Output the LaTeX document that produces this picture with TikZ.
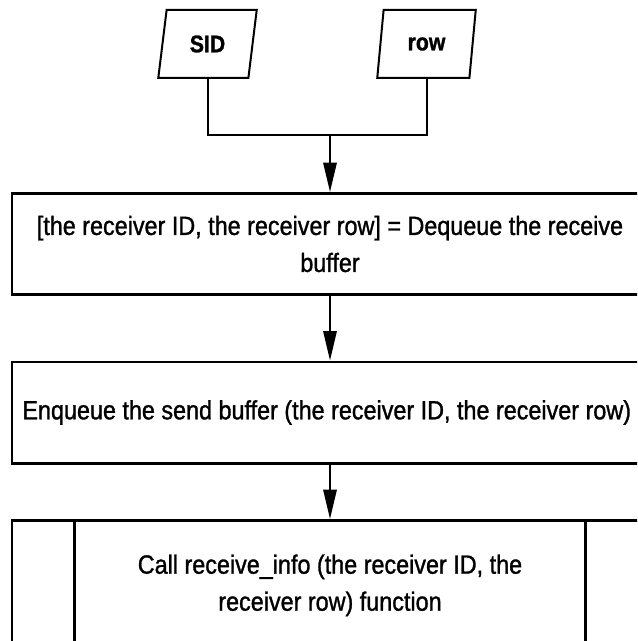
\documentclass[tikz,border=0pt]{standalone}
\usepackage{fontspec}
\usepackage{tikz}
\newfontfamily\flowfont[FakeStretch=0.885, FakeBold=1.2]{Liberation Sans}
\tikzset{
  flow_font/.style = {font=\flowfont\fontsize{19.8}{27.75}\selectfont},
  input_font/.style = {font=\flowfont\bfseries\fontsize{18}{22}\selectfont},
  full_size/.style = {minimum width=477pt},
  thick_line/.style = {line width=2pt},
  thin_line/.style = {line width=1.5pt}
}
\tikzset{
  data_in/.style = {input_font, draw, thin_line, trapezium, trapezium left angle=78,
    trapezium right angle=102, trapezium stretches=true, minimum width=74pt, minimum height=51pt, inner sep=0pt},
  process/.style = {flow_font, full_size, draw, thick_line, align=center, minimum height=76pt},
  subroutine/.style = {process, minimum height=97.5pt},
  flow/.style = {thin_line, -{Triangle[length=22pt, width=10pt]}}
}
\usetikzlibrary{shapes.geometric, arrows.meta, positioning, calc}

\begin{document}
\begin{tikzpicture}[x=0.75pt, y=-0.75pt]
        \useasboundingbox (0,0) rectangle (637,641);
        \clip (0,0) rectangle (637,641);

        % Inputs
        \node[data_in] at (207.5,44) (sid) {SID};
        \node[data_in] at (426.5,44) (row) {row};

        % Steps
        \node[process] at (330,244) (dequeue) {
            [the receiver ID, the receiver row] = Dequeue the receive \\
            buffer
            };
        \node[process] at (330,412.5) (enqueue) {
            Enqueue the send buffer (the receiver ID, the receiver row)
            };
        \node[subroutine, anchor=north] at (330,519) (call) {
            Call receive\_info (the receiver ID, the \\
            receiver row) function
            };

        % Side bars of the call
        \draw[thick_line] ([xshift=48pt]call.north west)--([xshift=48pt]call.south west);
        \draw[thick_line] ([xshift=-48pt]call.north east)--([xshift=-48pt]call.south east);

        % Arrows and lines
        \coordinate (join) at (dequeue.north |- 0,135);
        \draw[thin_line] (sid.south) |- (join) -| (row.south);
        \draw[flow] (join)--(dequeue.north);
        \draw[flow] (dequeue.south)--(enqueue.north);
        \draw[flow] (enqueue.south)--(call.north);
    \end{tikzpicture}
\end{document}
